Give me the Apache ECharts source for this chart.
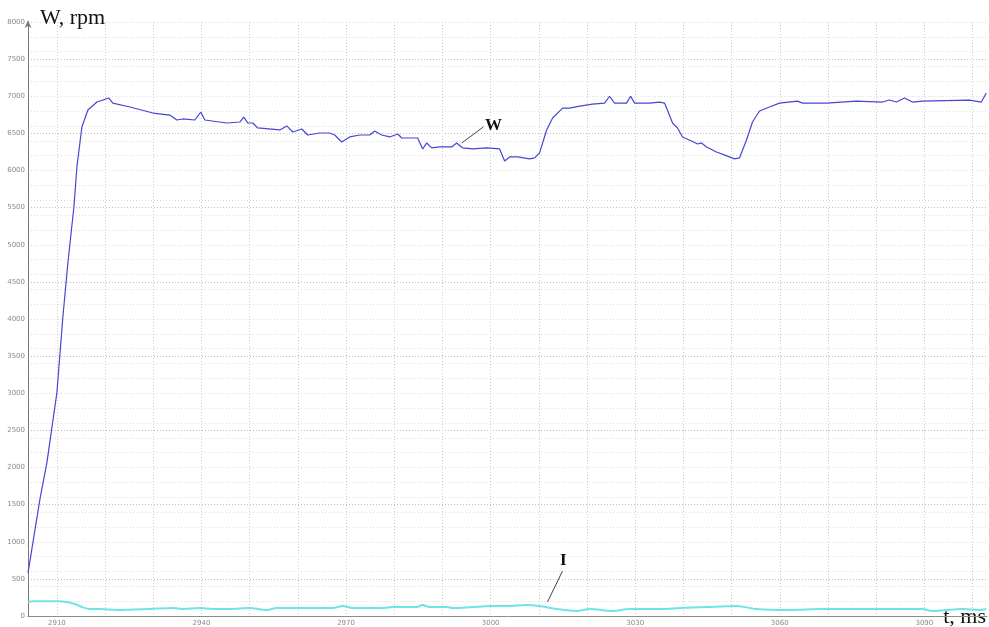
<!DOCTYPE html>
<html>
<head>
<meta charset="utf-8">
<script src="https://cdn.jsdelivr.net/npm/echarts@6.0.0/dist/echarts.min.js"></script>
<style>
  html, body { margin: 0; padding: 0; background: #fff; }
  #chart { width: 989px; height: 627px; }
</style>
</head>
<body>
<div id="chart"></div>
<script>
// Rotor speed W (rpm) over time (ms)
const wTime = [2904.0, 2906.47, 2907.93, 2910.0, 2911.24, 2912.28, 2913.53, 2914.15, 2915.18, 2916.43,
  2918.30, 2920.78, 2921.61, 2925.14, 2929.91, 2933.43, 2934.89, 2936.13, 2938.62, 2939.86,
  2940.69, 2945.25, 2947.95, 2948.78, 2949.61, 2950.65, 2951.68, 2956.25, 2957.70, 2958.94,
  2960.81, 2962.05, 2964.54, 2966.61, 2967.65, 2969.10, 2970.76, 2972.84, 2974.91, 2975.95,
  2977.40, 2979.06, 2980.72, 2981.55, 2984.86, 2985.90, 2986.73, 2987.77, 2989.43, 2991.92,
  2992.95, 2994.20, 2996.27, 2999.17, 3001.87, 3002.91, 3003.94, 3005.60, 3008.09, 3009.13,
  3010.16, 3011.62, 3012.86, 3014.93, 3016.39, 3018.46, 3021.16, 3023.64, 3024.68, 3025.72,
  3028.21, 3029.04, 3029.87, 3032.98, 3035.05, 3036.09, 3037.75, 3038.78, 3039.82, 3041.69,
  3042.93, 3043.76, 3044.80, 3046.87, 3049.57, 3050.61, 3051.64, 3053.09, 3054.34, 3055.79,
  3057.86, 3059.94, 3063.67, 3064.71, 3069.68, 3075.90, 3081.30, 3082.75, 3084.20, 3085.86,
  3087.52, 3089.59, 3099.34, 3101.82, 3102.86];
const wRpm = [580, 1570, 2070, 3010, 4030, 4758, 5511, 6048, 6586, 6815,
  6922, 6976, 6908, 6855, 6774, 6747, 6680, 6694, 6680, 6788,
  6680, 6640, 6653, 6720, 6640, 6640, 6573, 6546, 6600, 6519,
  6559, 6478, 6505, 6505, 6478, 6384, 6452, 6478, 6478, 6532,
  6478, 6452, 6492, 6438, 6438, 6290, 6371, 6304, 6317, 6317,
  6371, 6304, 6290, 6304, 6290, 6129, 6183, 6183, 6156, 6169,
  6237, 6546, 6707, 6841, 6841, 6868, 6895, 6908, 7000, 6908,
  6908, 7000, 6908, 6908, 6922, 6908, 6640, 6573, 6452, 6398,
  6357, 6371, 6317, 6250, 6183, 6156, 6169, 6411, 6653, 6801,
  6855, 6908, 6935, 6908, 6908, 6935, 6922, 6949, 6922, 6976,
  6922, 6935, 6949, 6922, 7043];

// Current I over the same time span (same vertical scale)
const iTime = [2904.0, 2905.02, 2907.10, 2910.21, 2912.07, 2913.73, 2915.18, 2916.84, 2918.92, 2922.44,
  2929.29, 2934.06, 2936.13, 2939.66, 2942.35, 2945.88, 2950.02, 2953.55, 2955.62, 2960.39,
  2967.24, 2969.31, 2971.38, 2977.61, 2979.68, 2984.66, 2985.90, 2987.35, 2990.88, 2992.12,
  2996.27, 2999.80, 3003.32, 3007.47, 3010.16, 3013.69, 3017.84, 3020.53, 3025.30, 3028.83,
  3035.67, 3039.20, 3044.80, 3051.02, 3055.17, 3062.01, 3068.85, 3075.90, 3082.75, 3089.59,
  3091.66, 3094.57, 3097.88, 3101.41, 3102.86];
const iVal = [188, 200, 200, 200, 188, 161, 121, 94, 94, 81,
  94, 107, 94, 107, 94, 94, 107, 81, 107, 107,
  107, 134, 107, 107, 121, 121, 148, 121, 121, 107,
  121, 134, 134, 148, 134, 94, 67, 94, 67, 94,
  94, 107, 121, 134, 94, 81, 94, 94, 94, 94,
  67, 81, 94, 81, 94];

// Axis ticks and labels
const xLabelValues = [2910, 2940, 2970, 3000, 3030, 3060, 3090];
const xGridValues = [2910, 2920, 2930, 2940, 2950, 2960, 2970, 2980, 2990, 3000,
  3010, 3020, 3030, 3040, 3050, 3060, 3070, 3080, 3090, 3100];
const xRange = [2904, 3103];
const yRange = [0, 8000];
const yLabelStep = 500;
const yMinorStep = 200;

const zip = (a, b) => a.map((v, k) => [v, b[k]]);
const plain = v => String(Math.round(v));

const chart = echarts.init(document.getElementById('chart'), null, { renderer: 'canvas' });

const labelStyle = { color: '#8a8a8a', fontSize: 7, fontFamily: 'DejaVu Sans', formatter: plain };

chart.setOption({
  animation: false,
  backgroundColor: '#ffffff',
  grid: { left: 28, right: 2, top: 22, bottom: 10, containLabel: false },
  xAxis: {
    type: 'value',
    min: xRange[0],
    max: xRange[1],
    axisLine: { show: true, onZero: false, lineStyle: { color: '#8c8c8c', width: 1 } },
    axisTick: { show: false, customValues: xGridValues },
    axisLabel: { customValues: xLabelValues, margin: 4, ...labelStyle },
    splitLine: { show: true, lineStyle: { color: '#cdcdcd', type: [1, 2], width: 1 } }
  },
  yAxis: [
    {
      type: 'value',
      min: yRange[0],
      max: yRange[1],
      interval: yLabelStep,
      name: 'W, rpm',
      nameLocation: 'end',
      nameGap: 4,
      nameTextStyle: {
        fontFamily: 'Liberation Serif', fontSize: 22, color: '#111',
        align: 'left', verticalAlign: 'middle', padding: [0, 0, 0, 12]
      },
      axisLine: {
        show: true, onZero: false,
        symbol: ['none', 'arrow'], symbolSize: [5, 8], symbolOffset: [0, 2],
        lineStyle: { color: '#7a7a7a', width: 1 }
      },
      axisTick: { show: false },
      axisLabel: { margin: 3, ...labelStyle },
      splitLine: { show: true, lineStyle: { color: '#bdbdbd', type: [1, 2], width: 1 } }
    },
    {
      // finer horizontal grid, no labels
      type: 'value',
      min: yRange[0],
      max: yRange[1],
      interval: yMinorStep,
      position: 'left',
      axisLine: { show: false },
      axisTick: { show: false },
      axisLabel: { show: false },
      splitLine: { show: true, lineStyle: { color: '#dcdcdc', type: [1, 2], width: 1 } }
    }
  ],
  graphic: [
    {
      type: 'text', right: 3, bottom: -1,
      style: { text: 't, ms', font: '22px "Liberation Serif"', fill: '#111' }
    }
  ],
  series: [
    {
      name: 'W',
      type: 'line',
      data: zip(wTime, wRpm),
      showSymbol: false,
      symbol: 'none',
      lineStyle: { color: '#4646d2', width: 1.2 },
      z: 3,
      markLine: {
        silent: true,
        symbol: ['none', 'none'],
        lineStyle: { color: '#444', width: 1, type: 'solid' },
        label: {
          show: true, position: 'end', formatter: 'W', distance: 2,
          fontFamily: 'Liberation Serif', fontWeight: 'bold', fontSize: 17, color: '#111'
        },
        data: [[{ coord: [2994.0, 6371] }, { coord: [2998.5, 6586] }]]
      }
    },
    {
      name: 'I',
      type: 'line',
      data: zip(iTime, iVal),
      showSymbol: false,
      symbol: 'none',
      smooth: 0.3,
      lineStyle: { color: '#6ee4e6', width: 2 },
      z: 2,
      markLine: {
        silent: true,
        symbol: ['none', 'none'],
        lineStyle: { color: '#444', width: 1, type: 'solid' },
        label: {
          show: true, position: 'end', formatter: 'I', distance: 2,
          fontFamily: 'Liberation Serif', fontWeight: 'bold', fontSize: 17, color: '#111'
        },
        data: [[{ coord: [3011.8, 188] }, { coord: [3014.9, 605] }]]
      }
    }
  ]
});
</script>
</body>
</html>
